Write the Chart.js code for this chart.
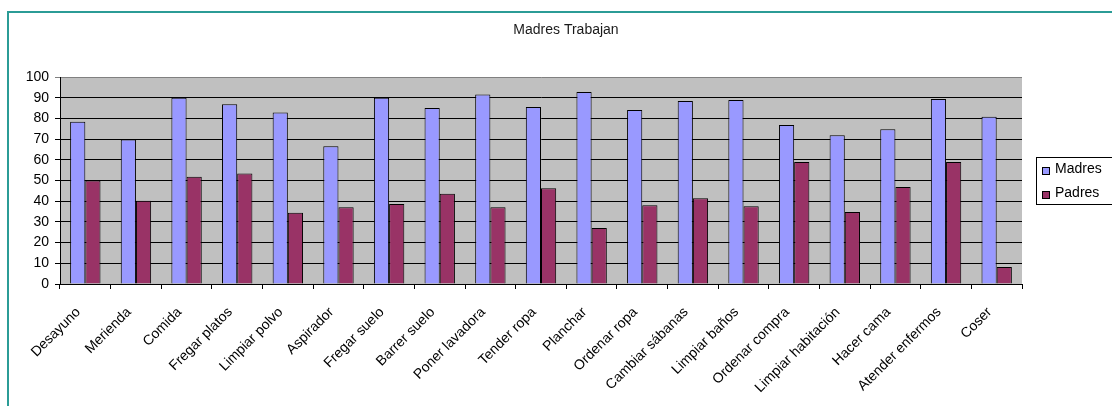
<!DOCTYPE html>
<html>
<head>
<meta charset="utf-8">
<script src="https://cdn.jsdelivr.net/npm/chart.js@4/dist/chart.umd.min.js"></script>
<style>
  html, body { margin: 0; padding: 0; background: #fff; }
  #wrap { position: relative; width: 1112px; height: 406px; overflow: hidden; }
  #frame { position: absolute; left: 7px; top: 11px; width: 1200px; height: 500px;
           border-left: 2px solid #2b9c96; border-top: 2px solid #2b9c96; }
  canvas { position: absolute; left: 0; top: 0; }
</style>
</head>
<body>
<div id="wrap">
  <div id="frame"></div>
  <canvas id="chart" width="1112" height="406"></canvas>
</div>
<script>
var categories = ['Desayuno', 'Merienda', 'Comida', 'Fregar platos', 'Limpiar polvo', 'Aspirador',
    'Fregar suelo', 'Barrer suelo', 'Poner lavadora', 'Tender ropa', 'Planchar', 'Ordenar ropa',
    'Cambiar sábanas', 'Limpiar baños', 'Ordenar compra', 'Limpiar habitación', 'Hacer cama',
    'Atender enfermos', 'Coser'];
var madres = [78.4, 69.8, 90, 86.8, 82.9, 66.5, 90, 85, 91.6, 85.5, 92.7, 84, 88.4, 88.9, 76.8, 71.9, 74.7, 89.4, 80.8];
var padres = [50, 40.2, 51.8, 53.4, 34.4, 37.1, 38.7, 43.6, 37.1, 46.3, 27.1, 38, 41.4, 37.6, 58.9, 34.8, 46.9, 58.9, 8.2];
var seriesNames = ['Madres', 'Padres'];
var yTicks = [0, 10, 20, 30, 40, 50, 60, 70, 80, 90, 100];
var titleText = 'Madres Trabajan';

var FONT = "'Liberation Sans', Arial, sans-serif";

// gray plot background
var plotBg = {
    id: 'plotBg',
    beforeDraw: function(chart) {
        var a = chart.chartArea, ctx = chart.ctx;
        ctx.save();
        ctx.fillStyle = '#c0c0c0';
        ctx.fillRect(a.left, a.top, a.right - a.left, a.bottom - a.top);
        ctx.restore();
    }
};

// title centred on the whole sheet, not on the plot
var sheetTitle = {
    id: 'sheetTitle',
    afterDraw: function(chart) {
        var ctx = chart.ctx;
        ctx.save();
        ctx.font = '14px ' + FONT;
        ctx.fillStyle = '#1a1a1a';
        ctx.textAlign = 'center';
        ctx.textBaseline = 'middle';
        ctx.fillText(titleText, 566, 30);
        ctx.restore();
    }
};

// boxed legend on the right, like the spreadsheet one
var boxLegend = {
    id: 'boxLegend',
    afterDraw: function(chart) {
        var ctx = chart.ctx;
        var x = 1036, y = 157, w = 80, h = 47;
        ctx.save();
        ctx.fillStyle = '#fff';
        ctx.fillRect(x, y, w, h);
        ctx.strokeStyle = '#000';
        ctx.lineWidth = 1;
        ctx.strokeRect(x + 0.5, y + 0.5, w, h);
        ctx.font = '14px ' + FONT;
        ctx.textBaseline = 'middle';
        chart.data.datasets.forEach(function(ds, i) {
            var cy = 170 + i * 24;
            ctx.fillStyle = ds.backgroundColor;
            ctx.fillRect(x + 6, cy - 3, 7, 7);
            ctx.strokeStyle = '#000';
            ctx.strokeRect(x + 6.5, cy - 2.5, 7, 7);
            ctx.fillStyle = '#000';
            ctx.fillText(ds.label, x + 19, cy - 1);
        });
        ctx.restore();
    }
};

new Chart(document.getElementById('chart').getContext('2d'), {
    type: 'bar',
    data: {
        labels: categories,
        datasets: [
            { label: seriesNames[0], data: madres, backgroundColor: '#9999ff', borderColor: '#000', borderWidth: 1 },
            { label: seriesNames[1], data: padres, backgroundColor: '#993366', borderColor: '#000', borderWidth: 1 }
        ]
    },
    options: {
        responsive: false,
        animation: false,
        layout: { padding: { top: 77, right: 90, bottom: 0, left: 0 } },
        datasets: { bar: { categoryPercentage: 0.6, barPercentage: 1.0 } },
        plugins: {
            legend: { display: false },
            tooltip: { enabled: false },
            title: { display: false }
        },
        scales: {
            x: {
                grid: { drawOnChartArea: false, color: '#000', tickLength: 5, offset: true },
                border: { color: '#000' },
                ticks: { color: '#000', font: { family: FONT, size: 14 }, maxRotation: 45, minRotation: 45,
                         autoSkip: false, padding: 15, labelOffset: -7 },
                afterFit: function(scale) { scale.height = 122; }
            },
            y: {
                min: 0, max: 100,
                afterBuildTicks: function(scale) { scale.ticks = yTicks.map(function(v) { return { value: v }; }); },
                grid: {
                    color: function(c) { return c.tick && c.tick.value === 100 ? '#808080' : '#000'; },
                    tickLength: 5
                },
                border: { color: '#000' },
                ticks: { color: '#000', font: { family: FONT, size: 14 }, padding: 6 },
                afterFit: function(scale) { scale.width = 60; }
            }
        }
    },
    plugins: [plotBg, sheetTitle, boxLegend]
});
</script>
</body>
</html>
